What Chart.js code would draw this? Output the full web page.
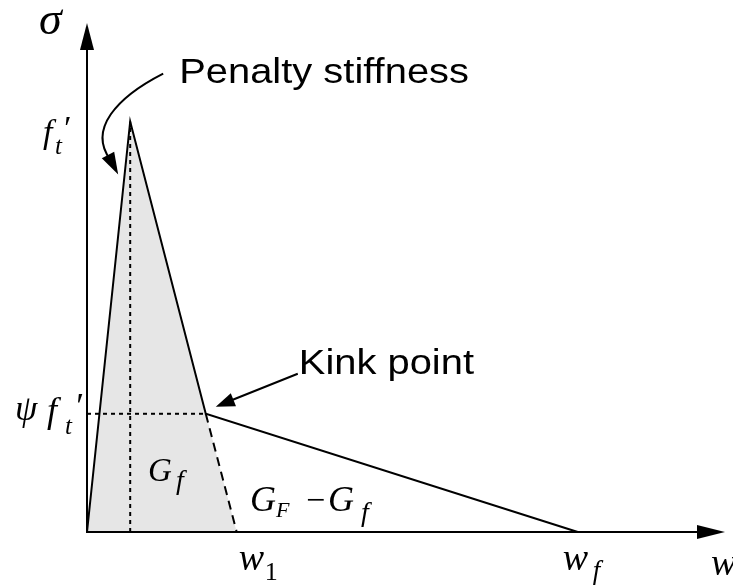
<!DOCTYPE html>
<html>
<head>
<meta charset="utf-8">
<script src="https://cdn.jsdelivr.net/npm/chart.js@4"></script>
<style>
  html, body { margin: 0; padding: 0; background: #ffffff; }
  #c { display: block; }
</style>
</head>
<body>
<canvas id="c" width="733" height="585"></canvas>
<script>
// ---- data (crack opening w, normalised by w_f; stress sigma, normalised by f_t') ----
const pointNames   = ['origin', 'peak (f_t\')', 'kink (psi f_t\')', 'w_f'];
const wValues      = [0, 0.088, 0.242, 1.0];
const sigmaValues  = [0, 1.0, 0.288, 0];
const w1Value      = 0.305;          // where the first branch meets sigma = 0
const xAxisMax     = 1.3;
const yAxisMax     = 1.24;

const pts = wValues.map((w, i) => ({ x: w, y: sigmaValues[i] }));
const peak = pts[1], kink = pts[2];

const SERIF = '"Liberation Serif", "Times New Roman", serif';
const SANS  = '"Liberation Sans", Arial, sans-serif';

function arrowHead(ctx, tipX, tipY, fromX, fromY, len, half) {
  const a = Math.atan2(tipY - fromY, tipX - fromX);
  const bx = tipX - len * Math.cos(a), by = tipY - len * Math.sin(a);
  const nx = -Math.sin(a) * half, ny = Math.cos(a) * half;
  ctx.beginPath();
  ctx.moveTo(tipX, tipY);
  ctx.lineTo(bx + nx, by + ny);
  ctx.lineTo(bx - nx, by - ny);
  ctx.closePath();
  ctx.fill();
}

function txt(ctx, s, x, y, font) {
  ctx.font = font;
  ctx.fillText(s, x, y);
  return x + ctx.measureText(s).width;
}

// sans label, slightly widened like the reference lettering
function wideTxt(ctx, s, x, y, size, sx) {
  ctx.save();
  ctx.translate(x, y);
  ctx.scale(sx, 1);
  ctx.font = size + 'px ' + SANS;
  ctx.fillText(s, 0, 0);
  ctx.restore();
}

const decor = {
  id: 'decor',
  afterDatasetsDraw(chart) {
    const ctx = chart.ctx;
    const X = chart.scales.x, Y = chart.scales.y;
    const x0 = X.getPixelForValue(0), y0 = Y.getPixelForValue(0);
    const xTop = X.getPixelForValue(xAxisMax), yTop = Y.getPixelForValue(yAxisMax);
    const pk = { x: X.getPixelForValue(peak.x), y: Y.getPixelForValue(peak.y) };
    const kp = { x: X.getPixelForValue(kink.x), y: Y.getPixelForValue(kink.y) };
    const pw1 = X.getPixelForValue(w1Value);
    const pwf = X.getPixelForValue(pts[3].x);

    ctx.save();
    ctx.strokeStyle = '#000'; ctx.fillStyle = '#000';
    ctx.lineWidth = 2; ctx.setLineDash([]);
    // axes
    ctx.beginPath();
    ctx.moveTo(x0, y0); ctx.lineTo(x0, yTop + 20);
    ctx.moveTo(x0 - 1, y0); ctx.lineTo(xTop - 20, y0);
    ctx.stroke();
    arrowHead(ctx, x0, yTop, x0, y0, 27, 7);
    arrowHead(ctx, xTop, y0, x0, y0, 28, 7);

    // curved arrow "Penalty stiffness"
    const s = { x: pk.x + 33, y: pk.y - 48 };
    const c1 = { x: pk.x - 14, y: pk.y - 24 };
    const c2 = { x: pk.x - 42, y: pk.y + 8 };
    const e = { x: pk.x - 20, y: pk.y + 38 };
    ctx.lineWidth = 2;
    ctx.beginPath();
    ctx.moveTo(s.x, s.y);
    ctx.bezierCurveTo(c1.x, c1.y, c2.x, c2.y, e.x, e.y);
    ctx.stroke();
    arrowHead(ctx, pk.x - 12, pk.y + 53, e.x - 3, e.y - 6, 22, 7);

    // straight arrow "Kink point"
    const tail = { x: kp.x + 92, y: kp.y - 40 };
    const tip = { x: kp.x + 10, y: kp.y - 7 };
    ctx.beginPath();
    ctx.moveTo(tail.x, tail.y); ctx.lineTo(tip.x + 12, tip.y - 5);
    ctx.stroke();
    arrowHead(ctx, tip.x, tip.y, tail.x, tail.y, 19, 7);

    // sans labels
    ctx.textBaseline = 'alphabetic';
    wideTxt(ctx, 'Penalty stiffness', pk.x + 49, pk.y - 39, 35, 1.14);
    wideTxt(ctx, 'Kink point', kp.x + 93, kp.y - 40, 35, 1.14);

    // math labels
    const I = (n) => 'italic ' + n + 'px ' + SERIF;
    const R = (n) => n + 'px ' + SERIF;
    // sigma
    txt(ctx, 'σ', x0 - 48, yTop + 11, I(46));
    // f_t'
    txt(ctx, 'f', x0 - 44, pk.y + 21, I(34));
    txt(ctx, 't', x0 - 32, pk.y + 32, I(25));
    txt(ctx, '′', x0 - 25, pk.y + 17, I(34));
    // psi f_t'
    txt(ctx, 'ψ', x0 - 72, kp.y + 6, I(36));
    txt(ctx, 'f', x0 - 40, kp.y + 8, I(36));
    txt(ctx, 't', x0 - 22, kp.y + 20, I(25));
    txt(ctx, '′', x0 - 13, kp.y + 4, I(36));
    // G_f
    txt(ctx, 'G', x0 + 61, y0 - 51, I(33));
    txt(ctx, 'f', x0 + 89, y0 - 43, I(28));
    // G_F - G_f
    txt(ctx, 'G', x0 + 163, y0 - 21, I(36));
    txt(ctx, 'F', x0 + 189, y0 - 15, I(22));
    txt(ctx, '−', x0 + 219, y0 - 21, R(34));
    txt(ctx, 'G', x0 + 241, y0 - 21, I(36));
    txt(ctx, 'f', x0 + 274, y0 - 11, I(28));
    // w_1
    txt(ctx, 'w', pw1 + 2, y0 + 38, I(38));
    txt(ctx, '1', pw1 + 28, y0 + 48, R(26));
    // w_f
    txt(ctx, 'w', pwf - 15, y0 + 38, I(38));
    txt(ctx, 'f', pwf + 15, y0 + 47, I(27));
    // w axis label
    txt(ctx, 'w', xTop - 14, y0 + 43, I(38));
    ctx.restore();
  }
};

const line = (data, extra) => Object.assign({
  data, showLine: true, pointRadius: 0, borderColor: '#000', borderWidth: 2,
  fill: false, clip: false, tension: 0, borderCapStyle: 'butt', order: 0
}, extra);

new Chart(document.getElementById('c'), {
  type: 'scatter',
  data: {
    datasets: [
      // shaded G_f region (drawn first / underneath)
      line([pts[0], pts[1], pts[2], { x: w1Value, y: 0 }],
           { borderWidth: 0, borderColor: 'rgba(0,0,0,0)', backgroundColor: '#e6e6e6', fill: 'origin', order: 10 }),
      // dotted helpers
      line([{ x: peak.x, y: 0 }, { x: peak.x, y: peak.y }], { borderDash: [4, 4], order: 5 }),
      line([{ x: 0, y: kink.y }, { x: kink.x, y: kink.y }], { borderDash: [4, 4], order: 5 }),
      // dashed extension to w1
      line([{ x: kink.x, y: kink.y }, { x: w1Value, y: 0 }], { borderDash: [9, 6], order: 4 }),
      // softening law
      line(pts, { borderJoinStyle: 'miter', order: 1 })
    ]
  },
  options: {
    responsive: false,
    animation: false,
    devicePixelRatio: 1,
    layout: { padding: { left: 87, right: 8, top: 23, bottom: 53 } },
    scales: {
      x: { type: 'linear', min: 0, max: xAxisMax, display: false },
      y: { type: 'linear', min: 0, max: yAxisMax, display: false }
    },
    plugins: { legend: { display: false }, tooltip: { enabled: false } }
  },
  plugins: [decor]
});
</script>
</body>
</html>
